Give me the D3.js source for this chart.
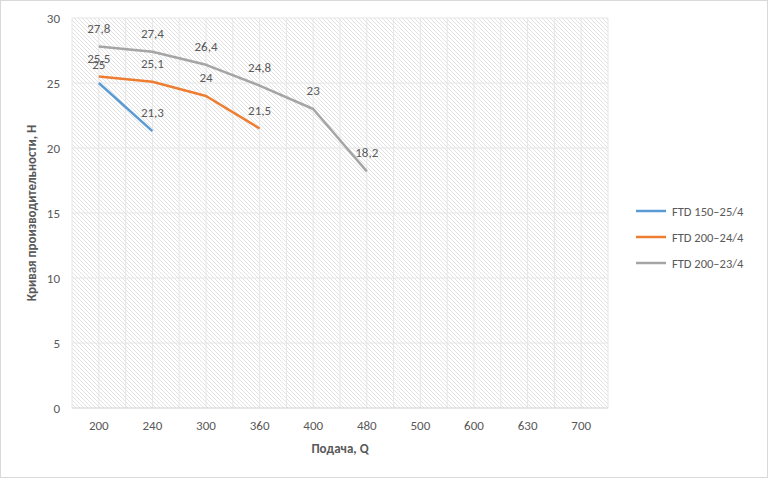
<!DOCTYPE html>
<html><head><meta charset="utf-8">
<script src="https://cdn.jsdelivr.net/npm/d3@7"></script>
<style>body{margin:0;background:#fff}text{font-family:Calibri,Carlito,"Liberation Sans",sans-serif}</style>
</head><body>
<svg id="c" width="768" height="478"></svg>
<script>
const categories = ["200","240","300","360","400","480","500","600","630","700"];
const seriesNames = ["FTD 150–25/4","FTD 200–24/4","FTD 200–23/4"];
const s1 = [25, 21.3];
const s2 = [25.5, 25.1, 24, 21.5];
const s3 = [27.8, 27.4, 26.4, 24.8, 23, 18.2];
const colors = ["#5b9bd5","#ed7d31","#a5a5a5"];
const yTicks = [0,5,10,15,20,25,30];

const svg = d3.select("#c");
svg.append("rect").attr("x",0.5).attr("y",0.5).attr("width",767).attr("height",477)
  .attr("fill","#fff").attr("stroke","#d9d9d9");

const defs = svg.append("defs");
const pat = defs.append("pattern").attr("id","hatch").attr("patternUnits","userSpaceOnUse")
  .attr("width",4).attr("height",4);
pat.append("path").attr("d","M-1,-1 L5,5 M3,-1 L5,1 M-1,3 L1,5").attr("stroke","#e2e2e2").attr("stroke-width",1);

const x = d3.scaleBand().domain(categories).range([72,608]);
const y = d3.scaleLinear().domain([0,30]).range([408,18]);

svg.append("rect").attr("x",72).attr("y",18).attr("width",536).attr("height",390).attr("fill","url(#hatch)");

// vertical grid (boundaries and centres)
const vg = [];
categories.forEach(c => { vg.push(x(c)); vg.push(x(c)+x.bandwidth()/2); });
vg.push(608);
svg.append("g").selectAll("line").data(vg).join("line")
  .attr("x1",d=>d).attr("x2",d=>d).attr("y1",18).attr("y2",408)
  .attr("stroke","#e6e6e6");
svg.append("g").selectAll("line").data(yTicks).join("line")
  .attr("x1",72).attr("x2",608).attr("y1",d=>y(d)).attr("y2",d=>y(d))
  .attr("stroke",d=>d===0?"#d0d0d0":"#e6e6e6");

svg.append("g").selectAll("text").data(yTicks).join("text")
  .attr("x",60).attr("y",d=>y(d)+5).attr("text-anchor","end")
  .attr("font-size",13).attr("fill","#595959").text(d=>d);
svg.append("g").selectAll("text").data(categories).join("text")
  .attr("x",d=>x(d)+x.bandwidth()/2).attr("y",430).attr("text-anchor","middle")
  .attr("font-size",13).attr("fill","#595959").text(d=>d);

svg.append("text").attr("x",340).attr("y",453).attr("text-anchor","middle")
  .attr("font-size",13).attr("font-weight","bold").attr("fill","#595959").text("Подача, Q");
svg.append("text").attr("transform","translate(36,213) rotate(-90)").attr("text-anchor","middle")
  .attr("font-size",13).attr("font-weight","bold").attr("fill","#595959").text("Кривая производительности, H");

const line = d3.line().x((d,i)=>x(categories[i])+x.bandwidth()/2).y(d=>y(d));
[s1,s2,s3].forEach((s,k)=>{
  svg.append("path").datum(s).attr("d",line).attr("fill","none")
    .attr("stroke",colors[k]).attr("stroke-width",2.5).attr("stroke-linejoin","round");
});
[s1,s2,s3].forEach(s=>{
  svg.append("g").selectAll("text").data(s).join("text")
    .attr("x",(d,i)=>x(categories[i])+x.bandwidth()/2)
    .attr("y",d=>y(d)-14).attr("text-anchor","middle")
    .attr("font-size",13).attr("fill","#595959").text(d=>String(d).replace(".",","));
});

const lg = svg.append("g").selectAll("g").data(seriesNames).join("g")
  .attr("transform",(d,i)=>`translate(636,${211+i*26})`);
lg.append("line").attr("x1",0).attr("x2",30).attr("stroke",(d,i)=>colors[i]).attr("stroke-width",2.5);
lg.append("text").attr("x",36).attr("y",4.5).attr("font-size",12.5).attr("fill","#595959").text(d=>d);
</script>
</body></html>
